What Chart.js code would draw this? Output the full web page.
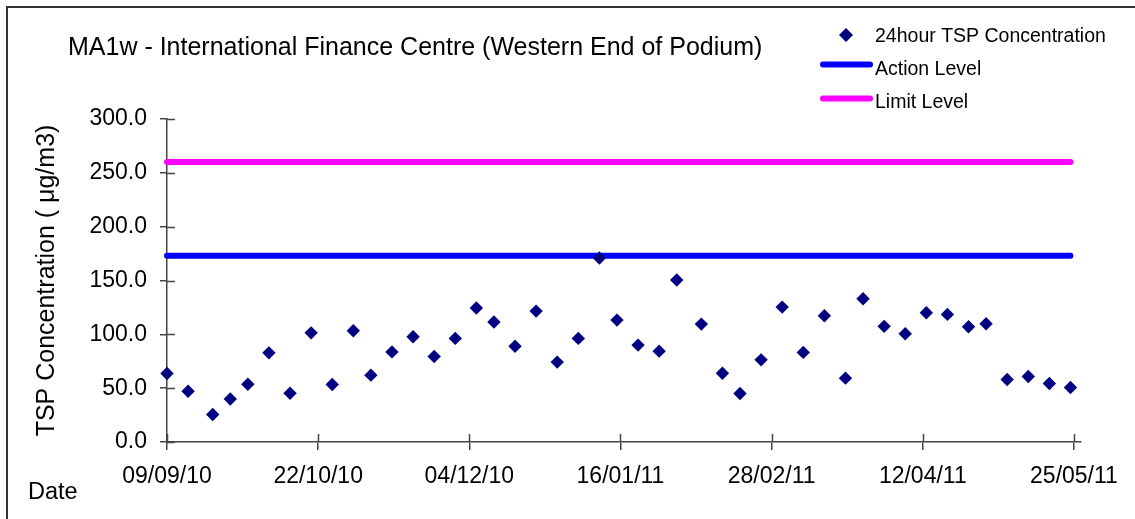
<!DOCTYPE html>
<html>
<head>
<meta charset="utf-8">
<title>MA1w - TSP</title>
<script src="https://cdn.jsdelivr.net/npm/chart.js@4.4.1/dist/chart.umd.min.js"></script>
<style>
    body { margin: 0; background: #fff; }
    #contenedor { position: relative; width: 1135px; height: 519px; overflow: hidden; background: #fff; }
    .marco { position: absolute; left: 6px; top: 6px; width: 1200px; height: 600px; border: 2px solid #333; pointer-events: none; }
</style>
</head>
<body>
<div id="contenedor">
    <canvas id="grafico"></canvas>
    <div class="marco"></div>
</div>
<script>
// ==========================================
// DATOS
// ==========================================
const TITULO = 'MA1w - International Finance Centre (Western End of Podium)';

const fechas = [
    '09/09/10', '15/09/10', '22/09/10', '27/09/10', '02/10/10', '08/10/10', '14/10/10', '20/10/10',
    '26/10/10', '01/11/10', '06/11/10', '12/11/10', '18/11/10', '24/11/10', '30/11/10', '06/12/10',
    '11/12/10', '17/12/10', '23/12/10', '29/12/10', '04/01/11', '10/01/11', '15/01/11', '21/01/11',
    '27/01/11', '01/02/11', '08/02/11', '14/02/11', '19/02/11', '25/02/11', '03/03/11', '09/03/11',
    '15/03/11', '21/03/11', '26/03/11', '01/04/11', '07/04/11', '13/04/11', '19/04/11', '25/04/11',
    '30/04/11', '06/05/11', '12/05/11', '18/05/11', '24/05/11'
];

const concentracion = [
    63.6, 47.2, 25.5, 40.0, 53.7, 82.8, 45.3, 101.4,
    53.4, 103.3, 62.1, 83.7, 97.7, 79.4, 96.2, 124.4,
    111.4, 89.0, 121.6, 74.2, 96.2, 170.9, 113.2, 90.0,
    84.4, 150.5, 109.5, 63.9, 45.0, 76.3, 125.3, 83.2,
    117.3, 59.3, 133.1, 107.4, 100.5, 120.0, 118.5, 107.0,
    109.8, 58.0, 60.8, 54.3, 50.6
];

const nivelAccion = 173;
const nivelLimite = 260;

const etiquetasEjeX = ['09/09/10', '22/10/10', '04/12/10', '16/01/11', '28/02/11', '12/04/11', '25/05/11'];
const ticksEjeY = [0, 50, 100, 150, 200, 250, 300];

const etiquetasLeyenda = ['24hour TSP Concentration', 'Action Level', 'Limit Level'];

// ==========================================
// UTILIDADES DE FECHA
// ==========================================
const DIA_MS = 86400000;

function aFecha(texto) {
    const [d, m, a] = texto.split('/').map(Number);
    return Date.UTC(2000 + a, m - 1, d);
}

const origen = aFecha(fechas[0]);

function aDia(texto) {
    return Math.round((aFecha(texto) - origen) / DIA_MS);
}

function diaATexto(dia) {
    const f = new Date(origen + dia * DIA_MS);
    const dd = String(f.getUTCDate()).padStart(2, '0');
    const mm = String(f.getUTCMonth() + 1).padStart(2, '0');
    const aa = String(f.getUTCFullYear() % 100).padStart(2, '0');
    return `${dd}/${mm}/${aa}`;
}

const puntos = fechas.map((f, i) => ({ x: aDia(f), y: concentracion[i] }));
const diaFinal = aDia(fechas[fechas.length - 1]);
const diasTicks = etiquetasEjeX.map(aDia);

const COLOR_EJE = '#444';
const FUENTE = '"Liberation Sans", Arial, sans-serif';

// ==========================================
// PLUGIN: título, leyenda y ticks cruzados
// ==========================================
const textoFijo = {
    id: 'textoFijo',
    afterDraw(chart) {
        const ctx = chart.ctx;
        const area = chart.chartArea;
        const sx = chart.scales.x;
        const sy = chart.scales.y;

        ctx.save();

        // parte interior de las marcas de los ejes
        ctx.strokeStyle = COLOR_EJE;
        ctx.lineWidth = 1.5;
        ctx.beginPath();
        sy.ticks.forEach(t => {
            const py = Math.round(sy.getPixelForValue(t.value)) + 0.5;
            ctx.moveTo(area.left, py);
            ctx.lineTo(area.left + 8, py);
        });
        sx.ticks.forEach(t => {
            const px = Math.round(sx.getPixelForValue(t.value)) + 0.5;
            ctx.moveTo(px, area.bottom);
            ctx.lineTo(px, area.bottom - 8);
        });
        ctx.stroke();

        ctx.fillStyle = '#000';
        ctx.textBaseline = 'alphabetic';

        ctx.font = `25px ${FUENTE}`;
        ctx.fillText(TITULO, 68, 55);

        ctx.font = `23.5px ${FUENTE}`;
        ctx.fillText('Date', 28, 499);

        // leyenda
        ctx.font = `19.5px ${FUENTE}`;
        ctx.fillText(etiquetasLeyenda[0], 875, 42);
        ctx.fillText(etiquetasLeyenda[1], 875, 75);
        ctx.fillText(etiquetasLeyenda[2], 875, 108);

        ctx.fillStyle = '#000080';
        ctx.beginPath();
        ctx.moveTo(846 - 7, 35);
        ctx.lineTo(846, 35 - 7);
        ctx.lineTo(846 + 7, 35);
        ctx.lineTo(846, 35 + 7);
        ctx.closePath();
        ctx.fill();

        ctx.lineCap = 'round';
        ctx.lineWidth = 6;
        ctx.strokeStyle = '#0000ff';
        ctx.beginPath();
        ctx.moveTo(823, 64.5);
        ctx.lineTo(870, 64.5);
        ctx.stroke();

        ctx.strokeStyle = '#ff00ff';
        ctx.beginPath();
        ctx.moveTo(823, 98.5);
        ctx.lineTo(870, 98.5);
        ctx.stroke();

        ctx.restore();
    }
};

// ==========================================
// GRÁFICO
// ==========================================
Chart.defaults.font.family = FUENTE;
Chart.defaults.color = '#000';

const ctx = document.getElementById('grafico').getContext('2d');

new Chart(ctx, {
    type: 'scatter',
    data: {
        datasets: [
            {
                label: etiquetasLeyenda[0],
                data: puntos,
                pointStyle: 'rectRot',
                pointRadius: 6.7,
                pointHoverRadius: 6.7,
                backgroundColor: '#000080',
                borderColor: '#000080',
                borderWidth: 0,
                clip: false
            },
            {
                label: etiquetasLeyenda[1],
                data: [{ x: 0, y: nivelAccion }, { x: diaFinal, y: nivelAccion }],
                showLine: true,
                borderColor: '#0000ff',
                borderWidth: 6,
                borderCapStyle: 'round',
                pointRadius: 0,
                clip: false
            },
            {
                label: etiquetasLeyenda[2],
                data: [{ x: 0, y: nivelLimite }, { x: diaFinal, y: nivelLimite }],
                showLine: true,
                borderColor: '#ff00ff',
                borderWidth: 6,
                borderCapStyle: 'round',
                pointRadius: 0,
                clip: false
            }
        ]
    },
    options: {
        responsive: true,
        maintainAspectRatio: false,
        animation: false,
        events: [],
        layout: { padding: { top: 119, right: 54, left: 0, bottom: 0 } },
        plugins: {
            legend: { display: false },
            title: { display: false },
            tooltip: { enabled: false }
        },
        scales: {
            x: {
                type: 'linear',
                min: 0,
                max: 260,
                afterBuildTicks: (scale) => { scale.ticks = diasTicks.map(v => ({ value: v })); },
                afterFit: (scale) => { scale.height = 77; },
                border: { color: COLOR_EJE, width: 1.5 },
                grid: { drawOnChartArea: false, drawTicks: true, tickLength: 8, color: COLOR_EJE, lineWidth: 1.5 },
                ticks: {
                    autoSkip: false,
                    maxRotation: 0,
                    padding: 13,
                    font: { size: 23 },
                    callback: (valor) => diaATexto(valor)
                }
            },
            y: {
                min: 0,
                max: 300,
                afterBuildTicks: (scale) => { scale.ticks = ticksEjeY.map(v => ({ value: v })); },
                afterFit: (scale) => { scale.width = 167; },
                border: { color: COLOR_EJE, width: 1.5 },
                grid: { drawOnChartArea: false, drawTicks: true, tickLength: 7, color: COLOR_EJE, lineWidth: 1.5 },
                ticks: {
                    padding: 13,
                    font: { size: 23 },
                    callback: (valor) => Number(valor).toFixed(1)
                },
                title: {
                    display: true,
                    text: 'TSP Concentration ( μg/m3)',
                    font: { size: 25 },
                    padding: { top: 32, bottom: 0 }
                }
            }
        }
    },
    plugins: [textoFijo]
});
</script>
</body>
</html>
